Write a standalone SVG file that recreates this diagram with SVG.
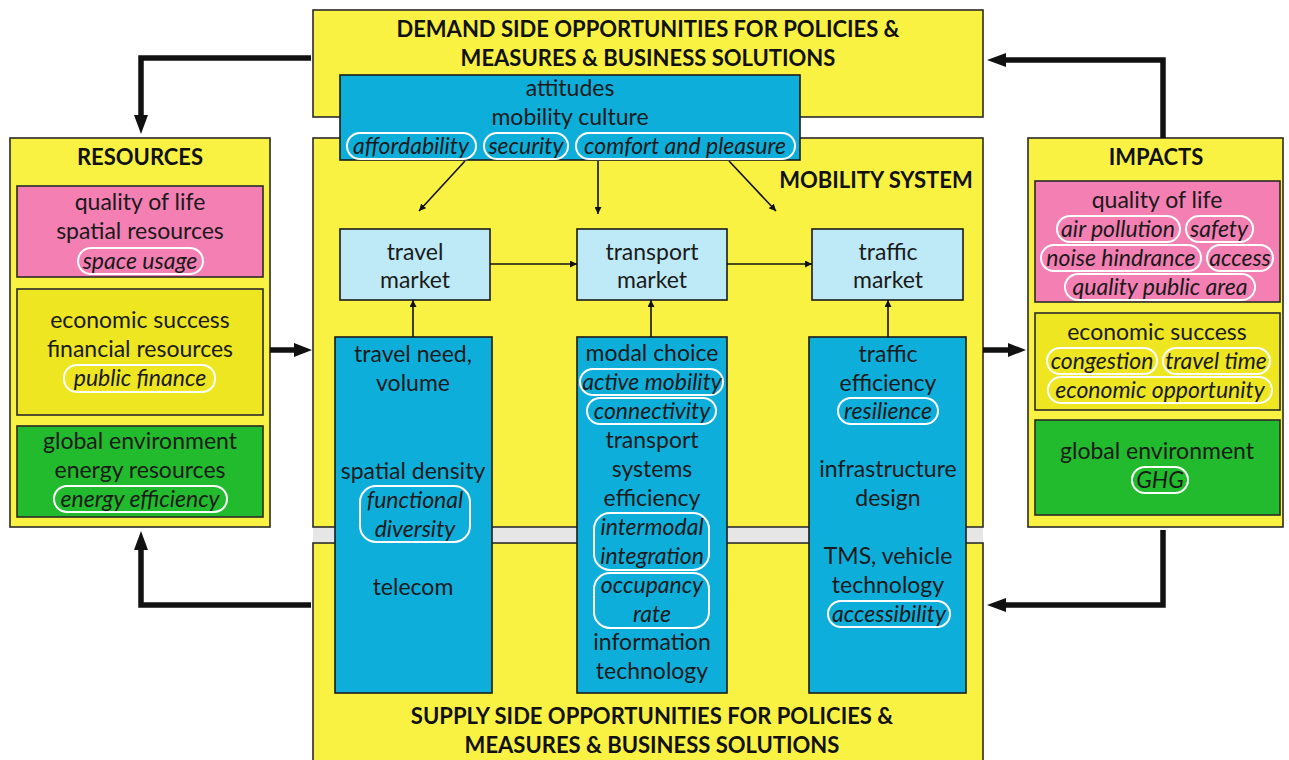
<svg xmlns="http://www.w3.org/2000/svg" width="1289" height="760" viewBox="0 0 1289 760">
<defs>
<style>
.yel{fill:#f9f243;stroke:#2a2a2a;stroke-width:1.6}
.yel2{fill:#ede621;stroke:#2a2a2a;stroke-width:1.6}
.pink{fill:#f37fb3;stroke:#2a2a2a;stroke-width:1.6}
.grn{fill:#22bb2d;stroke:#2a2a2a;stroke-width:1.6}
.blue{fill:#0eaedb;stroke:#1a1a1a;stroke-width:1.6}
.lb{fill:#bdeaf6;stroke:#1a1a1a;stroke-width:1.6}
.pill{fill:none;stroke:#ffffff;stroke-width:2}
.t{font-family:Lato,"Open Sans",sans-serif;font-size:23px;fill:#1a1a1a;text-anchor:middle}
.i{font-family:Lato,"Open Sans",sans-serif;font-size:23px;font-style:italic;fill:#1a1a1a;text-anchor:middle}
.h{font-family:Lato,"Liberation Sans",sans-serif;font-size:22px;font-weight:bold;fill:#111;text-anchor:middle}
.thin{fill:none;stroke:#111;stroke-width:1.6}
.thick{fill:none;stroke:#111;stroke-width:5.5}
.head{fill:#111}
</style>
<marker id="ah" viewBox="0 0 10 10" refX="10" refY="5" markerWidth="7" markerHeight="7" markerUnits="userSpaceOnUse" orient="auto">
<path d="M0,0 L10,5 L0,10 z" fill="#111"/>
</marker>
</defs>

<g id="demand">
<rect class="yel" x="313" y="10" width="670" height="107"/>
<text class="h" x="648" y="37">DEMAND SIDE OPPORTUNITIES FOR POLICIES &amp;</text>
<text class="h" x="648" y="66">MEASURES &amp; BUSINESS SOLUTIONS</text>
</g>

<g id="mobility-system">
<rect class="yel" x="313" y="138" width="670" height="389"/>
<text class="h" x="876" y="188">MOBILITY SYSTEM</text>
</g>

<g id="supply">
<rect class="yel" x="313" y="543" width="670" height="230"/>
<text class="h" x="652" y="724">SUPPLY SIDE OPPORTUNITIES FOR POLICIES &amp;</text>
<text class="h" x="652" y="753">MEASURES &amp; BUSINESS SOLUTIONS</text>
</g>

<rect x="313" y="528" width="670" height="14" fill="#e6e6e6"/>

<g id="attitudes">
<rect class="blue" x="340" y="75" width="460" height="85"/>
<text class="t" x="570" y="96">attitudes</text>
<text class="t" x="570" y="125">mobility culture</text>
<rect class="pill" x="347" y="133" width="129" height="26" rx="13"/>
<text class="i" x="411" y="154">affordability</text>
<rect class="pill" x="484" y="133" width="84" height="26" rx="13"/>
<text class="i" x="526" y="154">security</text>
<rect class="pill" x="576" y="133" width="219" height="26" rx="13"/>
<text class="i" x="685" y="154">comfort and pleasure</text>
</g>

<g id="travel-market">
<rect class="lb" x="340" y="229" width="150" height="71"/>
<text class="t" x="415" y="260">travel</text>
<text class="t" x="415" y="288">market</text>
</g>
<g id="transport-market">
<rect class="lb" x="577" y="229" width="150" height="71"/>
<text class="t" x="652" y="260">transport</text>
<text class="t" x="652" y="288">market</text>
</g>
<g id="traffic-market">
<rect class="lb" x="812" y="229" width="151" height="71"/>
<text class="t" x="888" y="260">traffic</text>
<text class="t" x="888" y="288">market</text>
</g>

<g id="travel-column">
<rect class="blue" x="335" y="337" width="157" height="356"/>
<text class="t" x="413" y="362">travel need,</text>
<text class="t" x="413" y="391">volume</text>
<text class="t" x="413" y="479">spatial density</text>
<rect class="pill" x="360" y="486" width="110" height="56" rx="16"/>
<text class="i" x="415" y="508">functional</text>
<text class="i" x="415" y="537">diversity</text>
<text class="t" x="413" y="595">telecom</text>
</g>

<g id="transport-column">
<rect class="blue" x="577" y="337" width="150" height="356"/>
<text class="t" x="652" y="361">modal choice</text>
<rect class="pill" x="580" y="369" width="143" height="26" rx="13"/>
<text class="i" x="652" y="390">active mobility</text>
<rect class="pill" x="587" y="398" width="129" height="26" rx="13"/>
<text class="i" x="652" y="419">connectivity</text>
<text class="t" x="652" y="448">transport</text>
<text class="t" x="652" y="477">systems</text>
<text class="t" x="652" y="506">efficiency</text>
<rect class="pill" x="594" y="513" width="115" height="57" rx="16"/>
<text class="i" x="652" y="535">intermodal</text>
<text class="i" x="652" y="564">integration</text>
<rect class="pill" x="594" y="573" width="115" height="55" rx="16"/>
<text class="i" x="652" y="593">occupancy</text>
<text class="i" x="652" y="622">rate</text>
<text class="t" x="652" y="650">information</text>
<text class="t" x="652" y="679">technology</text>
</g>

<g id="traffic-column">
<rect class="blue" x="809" y="337" width="157" height="356"/>
<text class="t" x="888" y="362">traffic</text>
<text class="t" x="888" y="391">efficiency</text>
<rect class="pill" x="838" y="398" width="100" height="26" rx="13"/>
<text class="i" x="888" y="419">resilience</text>
<text class="t" x="888" y="477">infrastructure</text>
<text class="t" x="888" y="506">design</text>
<text class="t" x="888" y="564">TMS, vehicle</text>
<text class="t" x="888" y="593">technology</text>
<rect class="pill" x="828" y="601" width="122" height="26" rx="13"/>
<text class="i" x="889" y="622">accessibility</text>
</g>

<g id="resources">
<rect class="yel" x="10" y="138" width="260" height="389"/>
<text class="h" x="140" y="165">RESOURCES</text>
<rect class="pink" x="17" y="186" width="246" height="91"/>
<text class="t" x="140" y="210">quality of life</text>
<text class="t" x="140" y="239">spatial resources</text>
<rect class="pill" x="78" y="248" width="125" height="26" rx="13"/>
<text class="i" x="140" y="269">space usage</text>
<rect class="yel2" x="17" y="289" width="246" height="126"/>
<text class="t" x="140" y="328">economic success</text>
<text class="t" x="140" y="357">financial resources</text>
<rect class="pill" x="64" y="365" width="151" height="27" rx="13"/>
<text class="i" x="140" y="386">public finance</text>
<rect class="grn" x="17" y="426" width="246" height="91"/>
<text class="t" x="140" y="449">global environment</text>
<text class="t" x="140" y="478">energy resources</text>
<rect class="pill" x="54" y="486" width="173" height="26" rx="13"/>
<text class="i" x="140" y="507">energy efficiency</text>
</g>

<g id="impacts">
<rect class="yel" x="1028" y="138" width="255" height="389"/>
<text class="h" x="1156" y="165">IMPACTS</text>
<rect class="pink" x="1035" y="181" width="245" height="121"/>
<text class="t" x="1157" y="208">quality of life</text>
<rect class="pill" x="1057" y="216" width="123" height="26" rx="13"/>
<text class="i" x="1118" y="237">air pollution</text>
<rect class="pill" x="1186" y="216" width="67" height="26" rx="13"/>
<text class="i" x="1219" y="237">safety</text>
<rect class="pill" x="1041" y="245" width="160" height="26" rx="13"/>
<text class="i" x="1121" y="266">noise hindrance</text>
<rect class="pill" x="1207" y="245" width="66" height="26" rx="13"/>
<text class="i" x="1240" y="266">access</text>
<rect class="pill" x="1065" y="274" width="190" height="26" rx="13"/>
<text class="i" x="1160" y="295">quality public area</text>
<rect class="yel2" x="1035" y="313" width="245" height="97"/>
<text class="t" x="1157" y="340">economic success</text>
<rect class="pill" x="1047" y="348" width="110" height="26" rx="13"/>
<text class="i" x="1102" y="369">congestion</text>
<rect class="pill" x="1163" y="348" width="107" height="26" rx="13"/>
<text class="i" x="1216" y="369">travel time</text>
<rect class="pill" x="1048" y="377" width="224" height="26" rx="13"/>
<text class="i" x="1160" y="398">economic opportunity</text>
<rect class="grn" x="1035" y="420" width="245" height="95"/>
<text class="t" x="1157" y="459">global environment</text>
<rect class="pill" x="1132" y="467" width="56" height="26" rx="13"/>
<text class="i" x="1160" y="488">GHG</text>
</g>

<g id="connectors">
<line class="thin" x1="465" y1="161" x2="419" y2="211" marker-end="url(#ah)"/>
<line class="thin" x1="598" y1="161" x2="598" y2="214" marker-end="url(#ah)"/>
<line class="thin" x1="729" y1="161" x2="776" y2="211" marker-end="url(#ah)"/>
<line class="thin" x1="490" y1="264" x2="577" y2="264" marker-end="url(#ah)"/>
<line class="thin" x1="727" y1="264" x2="812" y2="264" marker-end="url(#ah)"/>
<line class="thin" x1="413" y1="337" x2="413" y2="300" marker-end="url(#ah)"/>
<line class="thin" x1="651" y1="337" x2="651" y2="300" marker-end="url(#ah)"/>
<line class="thin" x1="888" y1="337" x2="888" y2="300" marker-end="url(#ah)"/>

<path class="thick" d="M311,58 H141 V118"/>
<polygon class="head" points="134,115 148,115 141,134"/>
<line class="thick" x1="270" y1="350" x2="296" y2="350"/>
<polygon class="head" points="294,343 294,357 312,350"/>
<line class="thick" x1="983" y1="350" x2="1010" y2="350"/>
<polygon class="head" points="1008,343 1008,357 1026,350"/>
<path class="thick" d="M1163,138 V60 H1004"/>
<polygon class="head" points="1006,53 1006,67 987,60"/>
<path class="thick" d="M1163,530 V605 H1004"/>
<polygon class="head" points="1006,598 1006,612 987,605"/>
<path class="thick" d="M311,605 H141 V548"/>
<polygon class="head" points="134,550 148,550 141,531"/>
</g>
</svg>
